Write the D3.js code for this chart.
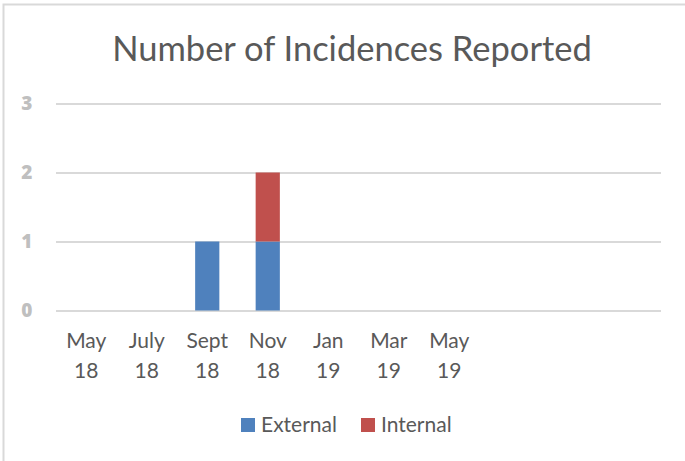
<!DOCTYPE html>
<html>
<head>
<meta charset="utf-8">
<script src="https://cdn.jsdelivr.net/npm/d3@7"></script>
<style>
  html, body { margin: 0; padding: 0; background: #ffffff; }
  svg { display: block; }
  .ylab { font-family: 'Open Sans', Lato, sans-serif; font-weight: 800; font-size: 19px; fill: #bfbfbf; }
</style>
</head>
<body>
<svg id="chart" width="685" height="461"></svg>
<script>
const title = "Number of Incidences Reported";
const categories = ["May 18", "July 18", "Sept 18", "Nov 18", "Jan 19", "Mar 19", "May 19", "", "", ""];
const seriesNames = ["External", "Internal"];
const externalValues = [0, 0, 1, 1, 0, 0, 0, 0, 0, 0];
const internalValues = [0, 0, 0, 1, 0, 0, 0, 0, 0, 0];
const yTicks = [0, 1, 2, 3];
const colors = ["#4f81bd", "#c0504d"];

const W = 685, H = 461;
const margin = { left: 56, right: 24, top: 103.5, bottom: 150.5 };
const svg = d3.select("#chart");
const font = "Lato, 'Open Sans', sans-serif";

// chart border (left + top visible)
svg.append("path")
  .attr("d", `M3.5,${H} L3.5,4.5 L${W},4.5`)
  .attr("fill", "none").attr("stroke", "#d9d9d9").attr("stroke-width", 2);

const rows = categories.map((c, i) => ({ key: i, cat: c, External: externalValues[i], Internal: internalValues[i] }));

const x = d3.scaleBand().domain(rows.map(d => d.key))
  .range([margin.left, W - margin.right]).padding(0);
const y = d3.scaleLinear().domain([0, 3]).range([H - margin.bottom, margin.top]);

// gridlines
const yAxis = d3.axisLeft(y).tickValues(yTicks).tickFormat("")
  .tickSizeInner(-(W - margin.right - margin.left)).tickSizeOuter(0);
const gy = svg.append("g").attr("transform", `translate(${margin.left},0)`).call(yAxis);
gy.select(".domain").remove();
gy.selectAll(".tick text").remove();
gy.selectAll(".tick line").attr("stroke", "#d9d9d9").attr("stroke-width", 2);

// y labels
svg.append("g").selectAll("text").data(yTicks).join("text")
  .attr("class", "ylab")
  .attr("x", 32.5).attr("y", d => y(d)).attr("dy", "0.36em")
  .attr("text-anchor", "end").text(d3.format("d"));

// bars
const stack = d3.stack().keys(seriesNames)(rows);
const barW = x.bandwidth() * 0.4;
svg.append("g").selectAll("g").data(stack).join("g")
  .attr("fill", (d, i) => colors[i])
  .selectAll("rect").data(d => d.filter(p => p[1] - p[0] > 0)).join("rect")
  .attr("x", d => x(d.data.key) + (x.bandwidth() - barW) / 2)
  .attr("width", barW)
  .attr("y", d => y(d[1]))
  .attr("height", d => y(d[0]) - y(d[1]));

// x labels
const xAxis = d3.axisBottom(x).tickSize(0).tickFormat("");
const gx = svg.append("g").attr("transform", `translate(0,${y(0)})`).call(xAxis);
gx.attr("font-size", null).attr("font-family", null);
gx.select(".domain").remove();
gx.selectAll(".tick").each(function(k) {
  const parts = categories[k].split(" ");
  const t = d3.select(this).append("text")
    .attr("fill", "#595959").style("font-family", font).style("font-size", "21px")
    .attr("text-anchor", "middle");
  parts.forEach((p, j) => {
    t.append("tspan").attr("x", 0).attr("y", 37.5 + j * 30).text(p);
  });
});

// title
svg.append("text").attr("x", 352).attr("y", 60.5)
  .attr("text-anchor", "middle").attr("fill", "#595959")
  .style("font-family", font).style("font-size", "34.5px").text(title);

// legend
const legendX = [241, 361];
const lg = svg.append("g").selectAll("g").data(seriesNames).join("g")
  .attr("transform", (d, i) => `translate(${legendX[i]},418)`);
lg.append("rect").attr("width", 14).attr("height", 14).attr("fill", (d, i) => colors[i]);
lg.append("text").attr("x", 20).attr("y", 13.5).attr("fill", "#595959")
  .style("font-family", font).style("font-size", "21px").text(d => d);
</script>
</body>
</html>
